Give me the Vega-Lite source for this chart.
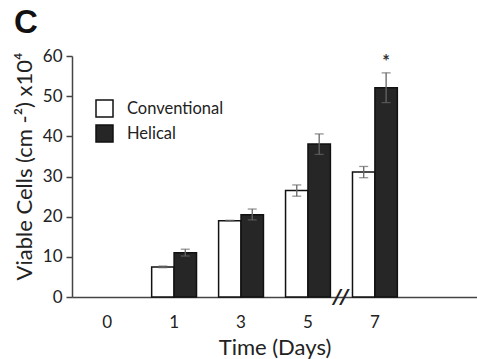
{
  "$schema": "https://vega.github.io/schema/vega-lite/v6.json",
  "autosize": "none",
  "width": 405,
  "height": 241,
  "padding": {"left": 72, "top": 56, "right": 0, "bottom": 62},
  "background": "white",
  "title": {"text": "C", "anchor": "start", "frame": "group", "dx": -58, "offset": 7, "fontSize": 33, "fontWeight": "bold", "font": "Liberation Sans", "color": "#111"},
  "config": {"view": {"stroke": null}, "font": "Lato"},
  "datasets": {
    "bars": [
      {"day": "1", "group": "Conventional", "value": 7.5, "lo": 7.3, "hi": 7.7},
      {"day": "1", "group": "Helical", "value": 11.0, "lo": 10.2, "hi": 11.9},
      {"day": "3", "group": "Conventional", "value": 19.0, "lo": 18.9, "hi": 19.1},
      {"day": "3", "group": "Helical", "value": 20.5, "lo": 19.2, "hi": 21.9},
      {"day": "5", "group": "Conventional", "value": 26.5, "lo": 25.1, "hi": 27.9},
      {"day": "5", "group": "Helical", "value": 38.1, "lo": 35.5, "hi": 40.6},
      {"day": "7", "group": "Conventional", "value": 31.1, "lo": 29.7, "hi": 32.5},
      {"day": "7", "group": "Helical", "value": 52.1, "lo": 48.4, "hi": 55.8}
    ],
    "notes": [
      {"day": "7", "group": "Helical", "value": 58.2, "label": "*"}
    ],
    "breaks": [
      {"day": "5", "value": 0, "label": "//"}
    ]
  },
  "layer": [
    {
      "data": {"name": "bars"},
      "mark": {"type": "bar", "stroke": "#111", "strokeWidth": 1.5},
      "encoding": {
        "x": {"field": "day", "type": "nominal", "scale": {"domain": ["0", "1", "3", "5", "7", "end"], "paddingInner": 0.33, "paddingOuter": 0.19},
              "axis": {"title": "Time (Days)", "labelExpr": "datum.value == 'end' ? '' : datum.value", "labelAngle": 0, "ticks": false, "labelPadding": 17, "labelFontSize": 17, "labelColor": "#222", "titleFontSize": 22, "titleFontWeight": "normal", "titleColor": "#222", "titlePadding": 7, "domainColor": "#444", "domainWidth": 1.5}},
        "xOffset": {"field": "group", "type": "nominal", "scale": {"paddingInner": 0, "paddingOuter": 0}},
        "y": {"field": "value", "type": "quantitative", "scale": {"domain": [0, 60], "nice": false},
              "axis": {"title": "Viable Cells (cm -²) x10⁴", "titleY": 110, "values": [0, 10, 20, 30, 40, 50, 60], "grid": false, "tickSize": 6, "tickColor": "#444", "tickWidth": 1.5, "domainColor": "#444", "domainWidth": 1.5, "labelPadding": 4, "labelFontSize": 17, "labelColor": "#222", "titleFontSize": 22, "titleFontWeight": "normal", "titleColor": "#222", "titlePadding": 6}},
        "fill": {"field": "group", "type": "nominal", "scale": {"domain": ["Conventional", "Helical"], "range": ["white", "#262626"]},
                 "legend": {"title": null, "orient": "none", "legendX": 23, "legendY": 43, "symbolType": "square", "symbolSize": 289, "symbolStrokeColor": "#111", "symbolStrokeWidth": 1.5, "labelFontSize": 16.5, "labelColor": "#222", "rowPadding": 2, "labelOffset": 13}}
      }
    },
    {
      "data": {"name": "bars"},
      "mark": {"type": "rule", "color": "#666", "strokeWidth": 1.3},
      "encoding": {
        "x": {"field": "day", "type": "nominal"},
        "xOffset": {"field": "group", "type": "nominal"},
        "y": {"field": "lo", "type": "quantitative"},
        "y2": {"field": "hi"}
      }
    },
    {
      "data": {"name": "bars"},
      "mark": {"type": "tick", "color": "#666", "thickness": 1.3, "size": 9},
      "encoding": {
        "x": {"field": "day", "type": "nominal"},
        "xOffset": {"field": "group", "type": "nominal"},
        "y": {"field": "lo", "type": "quantitative"}
      }
    },
    {
      "data": {"name": "bars"},
      "mark": {"type": "tick", "color": "#666", "thickness": 1.3, "size": 9},
      "encoding": {
        "x": {"field": "day", "type": "nominal"},
        "xOffset": {"field": "group", "type": "nominal"},
        "y": {"field": "hi", "type": "quantitative"}
      }
    },
    {
      "data": {"name": "notes"},
      "mark": {"type": "text", "fontSize": 18, "fontWeight": "bold", "color": "#333", "baseline": "middle"},
      "encoding": {
        "x": {"field": "day", "type": "nominal"},
        "xOffset": {"field": "group", "type": "nominal"},
        "y": {"field": "value", "type": "quantitative"},
        "text": {"field": "label"}
      }
    },
    {
      "data": {"name": "breaks"},
      "mark": {"type": "text", "fontSize": 20, "fontWeight": "bold", "fontStyle": "italic", "color": "#222", "baseline": "middle", "dx": 33, "font": "DejaVu Sans"},
      "encoding": {
        "x": {"field": "day", "type": "nominal"},
        "y": {"field": "value", "type": "quantitative"},
        "text": {"field": "label"}
      }
    }
  ]
}
